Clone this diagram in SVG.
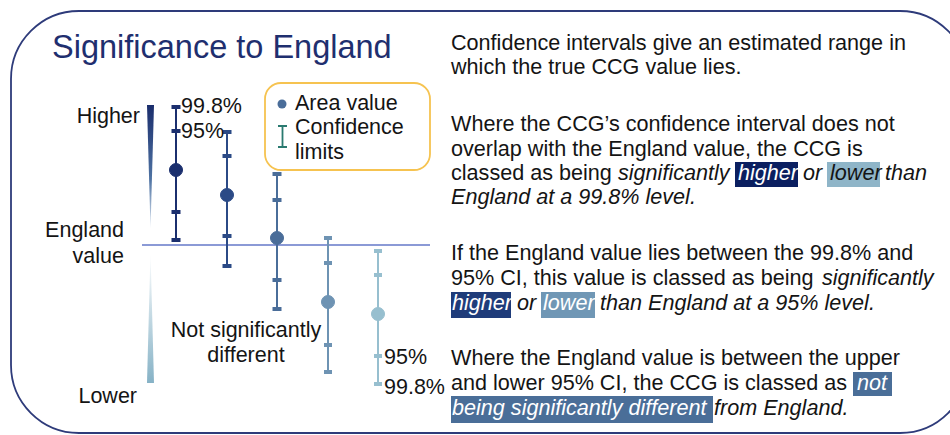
<svg xmlns="http://www.w3.org/2000/svg" width="950" height="435" viewBox="0 0 950 435">
<defs>
<linearGradient id="gUp" x1="0" y1="0" x2="0" y2="1">
<stop offset="0" stop-color="#1a2d6c"/>
<stop offset="0.6" stop-color="#4f73a3"/>
<stop offset="1" stop-color="#dfe8f2"/>
</linearGradient>
<linearGradient id="gDown" x1="0" y1="0" x2="0" y2="1">
<stop offset="0" stop-color="#ffffff"/>
<stop offset="1" stop-color="#86b2c6"/>
</linearGradient>
<style>
text{font-family:"Liberation Sans",Arial,sans-serif;fill:#141414}
.t{font-size:32.5px;fill:#1f2f6f}
.lab{font-size:21.5px}
.body{font-size:21.6px}
.it{font-style:italic}
.w{fill:#ffffff}
.b1{stroke:#1b2f6e;fill:#1b2f6e}
.b2{stroke:#2b4a86;fill:#2b4a86}
.b3{stroke:#4a6d99;fill:#4a6d99}
.b4{stroke:#6e93b3;fill:#6e93b3}
.b5{stroke:#97bfcf;fill:#97bfcf}
.bar line{stroke-width:2}
.bar rect{stroke:none}
</style>
</defs>
<rect width="950" height="435" fill="#ffffff"/>
<rect id="frame" x="11" y="11" width="957" height="422" rx="68" ry="68" fill="none" stroke="#2e3b7a" stroke-width="1.8"/>
<text id="title" class="t" x="52" y="58">Significance to England</text>

<g id="scale">
<polygon points="147,105 154,105 150.5,229" fill="url(#gUp)"/>
<polygon points="150.5,252 147,383 154,383" fill="url(#gDown)"/>
<text class="lab" x="140" y="123" text-anchor="end">Higher</text>
<text class="lab" x="124" y="237" text-anchor="end">England</text>
<text class="lab" x="124" y="263" text-anchor="end">value</text>
<text class="lab" x="137" y="403" text-anchor="end">Lower</text>
</g>

<g id="connectors">
<line x1="142" y1="245" x2="430" y2="245" stroke="#8b9ad6" stroke-width="2"/>
</g>

<g id="bar1" class="bar b1">
<line x1="176" y1="107" x2="176" y2="240"/>
<rect x="171.5" y="105" width="9" height="4"/>
<rect x="171.5" y="129" width="9" height="4"/>
<rect x="171.5" y="210" width="9" height="4"/>
<rect x="171.5" y="238" width="9" height="4"/>
<circle cx="176" cy="170" r="6.5"/>
</g>
<g id="bar2" class="bar b2">
<line x1="227" y1="132" x2="227" y2="266"/>
<rect x="222.5" y="130" width="9" height="4"/>
<rect x="222.5" y="154" width="9" height="4"/>
<rect x="222.5" y="234" width="9" height="4"/>
<rect x="222.5" y="264" width="9" height="4"/>
<circle cx="227" cy="195" r="6.5"/>
</g>
<g id="bar3" class="bar b3">
<line x1="277" y1="174" x2="277" y2="309"/>
<rect x="272.5" y="172" width="9" height="4"/>
<rect x="272.5" y="198" width="9" height="4"/>
<rect x="272.5" y="278" width="9" height="4"/>
<rect x="272.5" y="307" width="9" height="4"/>
<circle cx="277" cy="238" r="6.5"/>
</g>
<g id="bar4" class="bar b4">
<line x1="328" y1="238" x2="328" y2="372"/>
<rect x="324" y="236" width="8" height="4"/>
<rect x="324" y="261" width="8" height="4"/>
<rect x="324" y="343" width="8" height="4"/>
<rect x="324" y="370" width="8" height="4"/>
<circle cx="328" cy="302" r="6.5"/>
</g>
<g id="bar5" class="bar b5">
<line x1="378" y1="251" x2="378" y2="384"/>
<rect x="374" y="249" width="8" height="4"/>
<rect x="374" y="273" width="8" height="4"/>
<rect x="374" y="354" width="8" height="4"/>
<rect x="374" y="382" width="8" height="4"/>
<circle cx="378" cy="314" r="6.5"/>
</g>

<g id="bar-labels">
<text class="lab" x="181" y="113">99.8%</text>
<text class="lab" x="181" y="138">95%</text>
<text class="lab" x="384" y="364">95%</text>
<text class="lab" x="384" y="394">99.8%</text>
<text class="lab" x="246" y="337" text-anchor="middle">Not significantly</text>
<text class="lab" x="246" y="362" text-anchor="middle">different</text>
</g>

<g id="legend">
<rect x="265" y="83" width="165" height="87" rx="16" ry="16" fill="#ffffff" stroke="#f6c350" stroke-width="1.8"/>
<circle cx="282" cy="104" r="4.5" fill="#4a6d99"/>
<path d="M278 126H287M282.5 126V147M278 147H287" fill="none" stroke="#2a7a70" stroke-width="1.8"/>
<text class="lab" x="295" y="110">Area value</text>
<text class="lab" x="295" y="134">Confidence</text>
<text class="lab" x="295" y="159">limits</text>
</g>

<g id="explanation">
<rect x="735" y="162" width="63" height="25" fill="#0b1f60"/>
<rect x="827" y="162" width="53" height="25" fill="#8fb5c8"/>
<rect x="451" y="292" width="60" height="26" fill="#1f3c7a"/>
<rect x="541" y="292" width="54" height="26" fill="#7097b5"/>
<rect x="853" y="372" width="39" height="24" fill="#4a6e98"/>
<rect x="451" y="396" width="262" height="27" fill="#4a6e98"/>

<text class="body" x="451" y="50">Confidence intervals give an estimated range in</text>
<text class="body" x="451" y="74">which the true CCG value lies.</text>

<text class="body" x="451" y="131">Where the CCG’s confidence interval does not</text>
<text class="body" x="451" y="156">overlap with the England value, the CCG is</text>
<text class="body" y="180"><tspan x="451">classed as being </tspan><tspan class="it" x="618">significantly</tspan><tspan class="it w" x="738">higher</tspan><tspan class="it" x="803">or</tspan><tspan class="it" x="830">lower</tspan><tspan class="it" x="885">than</tspan></text>
<text class="body it" x="451" y="204">England at a 99.8% level.</text>

<text class="body" x="451" y="260">If the England value lies between the 99.8% and</text>
<text class="body" y="285"><tspan x="451">95% CI, this value is classed as being </tspan><tspan class="it" x="822">significantly</tspan></text>
<text class="body" y="310"><tspan class="it w" x="452">higher</tspan><tspan class="it" x="517">or</tspan><tspan class="it w" x="543">lower</tspan><tspan class="it" x="600">than England at a 95% level.</tspan></text>

<text class="body" x="451" y="365">Where the England value is between the upper</text>
<text class="body" y="390"><tspan x="451">and lower 95% CI, the CCG is classed as </tspan><tspan class="it w" x="857">not</tspan></text>
<text class="body" y="415"><tspan class="it w" x="452">being significantly different</tspan><tspan class="it" x="714">from England.</tspan></text>
</g>
</svg>
